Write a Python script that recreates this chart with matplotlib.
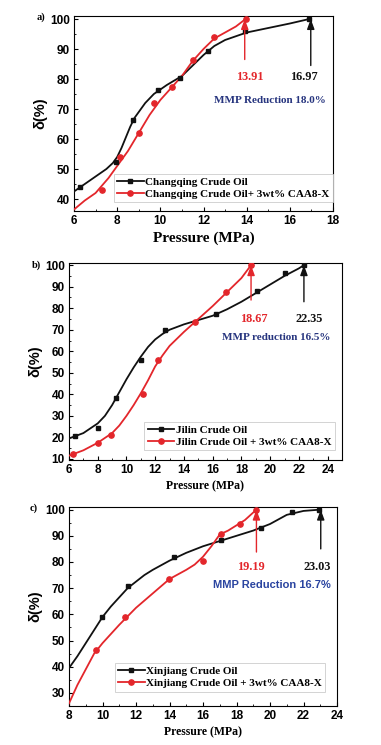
import matplotlib
matplotlib.use("Agg")
import matplotlib.pyplot as plt
from matplotlib.ticker import MultipleLocator

# ---------------- data ----------------
# Panel a: Changqing
a_black_x = [6.3, 7.95, 8.75, 9.9, 10.9, 12.2, 13.9, 16.9]
a_black_y = [44, 52.5, 66.5, 76.5, 80.5, 89.5, 96, 100]
a_red_x = [7.3, 8.15, 9.0, 9.7, 10.55, 11.5, 12.5, 13.95]
a_red_y = [43, 54, 62, 72, 77.5, 86.5, 94, 100]
a_black_fit_x = [6, 6.5, 7, 7.5, 7.8, 8.0, 8.2, 8.4, 8.6, 8.8, 9.0, 9.3, 9.7, 10.3, 11, 11.5, 12, 12.5, 13, 14, 15, 16, 16.9]
a_black_fit_y = [42.5, 45, 47.5, 50, 52, 54, 57, 60.5, 64, 67, 69, 72, 75, 78, 81, 84.5, 88, 91, 93, 95.5, 97, 98.5, 100]
a_red_fit_x = [6, 6.5, 7, 7.6, 8, 8.5, 9, 9.5, 10, 10.5, 11, 11.5, 12, 12.5, 13, 13.5, 13.95]
a_red_fit_y = [36.5, 39.5, 42, 47, 51, 56, 62, 68, 73, 77, 81, 86, 90, 93.5, 95.5, 97.5, 100]

# Panel b: Jilin
b_black_x = [6.4, 8.05, 9.3, 11.0, 12.7, 16.2, 19.1, 21.0, 22.35]
b_black_y = [20.5, 24.5, 38.5, 56, 70, 77.5, 88, 96.5, 100]
b_red_x = [6.3, 8.0, 8.95, 11.15, 12.2, 14.75, 16.9, 18.67]
b_red_y = [12.5, 17.5, 21, 40, 56, 73.5, 87.5, 100]
b_black_fit_x = [6, 7, 8, 8.5, 9, 9.5, 10, 10.5, 11, 11.5, 12, 12.5, 13, 14, 15, 16, 17, 18, 19, 20, 21, 22, 22.35]
b_black_fit_y = [19.5, 22, 26.5, 30, 35, 41, 47, 52.5, 57.5, 62, 65.5, 68, 70, 72.5, 74.5, 76.5, 79.5, 83, 87, 91, 95, 98.5, 100]
b_red_fit_x = [6, 7, 8, 9, 9.5, 10, 10.5, 11, 11.5, 12, 12.5, 13, 14, 15, 16, 17, 18, 18.67]
b_red_fit_y = [11.5, 14, 17.5, 22, 25.5, 30, 35, 40.5, 46.5, 53, 58, 62.5, 69, 75, 81, 87.5, 94, 100]

# Panel c: Xinjiang
c_black_x = [9.95, 11.55, 14.25, 17.1, 19.45, 21.3, 22.95]
c_black_y = [59, 71, 82, 88.5, 93, 99, 100]
c_red_x = [9.6, 11.35, 13.95, 16.0, 17.05, 18.2, 19.19]
c_red_y = [46.5, 59, 73.5, 80.5, 90.5, 94.5, 100]
c_black_fit_x = [8, 8.5, 9, 9.5, 10, 10.5, 11, 11.5, 12, 12.5, 13, 14, 15, 16, 17, 18, 19, 20, 21, 22, 23]
c_black_fit_y = [39.5, 44, 49, 54, 59, 63, 66.5, 70, 72.5, 75, 77, 80.5, 83.5, 86, 88, 90, 92, 94.5, 98, 99.5, 100]
c_red_fit_x = [8, 8.5, 9, 9.5, 10, 10.5, 11, 12, 13, 14, 15, 15.5, 16, 16.5, 17, 17.5, 18, 18.5, 19.19]
c_red_fit_y = [26, 33, 39, 45, 49, 52.5, 56, 62.5, 68, 73.5, 77, 79, 82, 86, 90.5, 92, 94, 96, 100]

mmp_a = [13.91, 16.97]
mmp_b = [18.67, 22.35]
mmp_c = [19.19, 23.03]

labels_a = ["Changqing Crude Oil", "Changqing Crude Oil+ 3wt% CAA8-X"]
labels_b = ["Jilin Crude Oil", "Jilin Crude Oil + 3wt% CAA8-X"]
labels_c = ["Xinjiang Crude Oil", "Xinjiang Crude Oil + 3wt% CAA8-X"]

# ---------------- style ----------------
RED = "#e3262b"
BLACK = "#111111"
BLUE_A = "#27357f"
BLUE_C = "#2a44a0"
SANS = "Liberation Sans"
SERIF = "Liberation Serif"

W, H = 381, 745
fig = plt.figure(figsize=(W / 100, H / 100), dpi=100)


def ax_rect(l, r, t, b):
    return [l / W, 1 - b / H, (r - l) / W, (b - t) / H]


def setup(ax, xlim, ylim, xmaj, ymaj, xlabel_size):
    ax.set_xlim(*xlim)
    ax.set_ylim(*ylim)
    ax.xaxis.set_major_locator(MultipleLocator(xmaj))
    ax.xaxis.set_minor_locator(MultipleLocator(xmaj / 2))
    ax.yaxis.set_major_locator(MultipleLocator(ymaj))
    ax.yaxis.set_minor_locator(MultipleLocator(ymaj / 2))
    ax.tick_params(which="both", direction="in", top=False, right=False)
    ax.tick_params(which="major", length=3, width=0.8, labelsize=8.5, pad=3)
    ax.tick_params(which="minor", length=1.5, width=0.6)
    for lab in ax.get_xticklabels() + ax.get_yticklabels():
        lab.set_fontfamily(SANS)
        lab.set_fontweight("bold")
    for s in ax.spines.values():
        s.set_linewidth(0.8)
    ax.set_ylabel("δ(%)", fontfamily=SANS, fontweight="bold", fontsize=10.5, labelpad=2)
    ax.set_xlabel("Pressure (MPa)", fontfamily=SERIF, fontweight="bold",
                  fontsize=xlabel_size, labelpad=3)


def draw(ax, bx, by, bfx, bfy, rx, ry, rfx, rfy, labels, legend_anchor):
    ax.plot(bfx, bfy, color=BLACK, lw=1.3, zorder=3)
    ax.plot(bx, by, "s", color=BLACK, ms=3.2, zorder=4)
    ax.plot(rfx, rfy, color=RED, lw=1.3, zorder=3)
    ax.plot(rx, ry, "o", color=RED, ms=3.8, zorder=4)
    hb = plt.Line2D([], [], color=BLACK, lw=1.3, marker="s", ms=3.2)
    hr = plt.Line2D([], [], color=RED, lw=1.3, marker="o", ms=3.8)
    leg = ax.legend([hb, hr], labels, loc="lower right", bbox_to_anchor=legend_anchor,
                    prop={"family": SERIF, "weight": "bold", "size": 8},
                    frameon=True, fancybox=False, edgecolor="#c8c8c8",
                    handlelength=2.4, handletextpad=0.15, borderpad=0.3,
                    labelspacing=0.2, borderaxespad=0)
    leg.get_frame().set_linewidth(0.7)


def arrow(ax, x, y0, color):
    ax.annotate("", xy=(x, 100), xytext=(x, y0),
                arrowprops=dict(arrowstyle="-|>,head_length=0.6,head_width=0.22",
                                color=color, lw=1.0, shrinkA=0, shrinkB=0), zorder=5)


num_font = dict(fontfamily=SERIF, fontweight="bold", fontsize=8.8, ha="center", va="center")

# ---- panel a ----
ax1 = fig.add_axes(ax_rect(74, 333, 16, 211))
draw(ax1, a_black_x, a_black_y, a_black_fit_x, a_black_fit_y,
     a_red_x, a_red_y, a_red_fit_x, a_red_fit_y, labels_a, (1.0, 0.045))
setup(ax1, (6, 18), (36, 101), 2, 10, 11)
arrow(ax1, mmp_a[0], 86.5, RED)
arrow(ax1, mmp_a[1], 84.5, BLACK)
ax1.text(14.15, 80.6, f"{mmp_a[0]:.2f}", color=RED, **num_font)
ax1.text(16.65, 80.6, f"{mmp_a[1]:.2f}", color=BLACK, **num_font)
ax1.text(15.07, 72.9, "MMP Reduction 18.0%", color=BLUE_A, fontfamily=SERIF,
         fontweight="bold", fontsize=8, ha="center", va="center")
fig.text(37 / W, 1 - 17 / H, "a)", fontfamily=SERIF, fontweight="bold", fontsize=7.5, va="center")

# ---- panel b ----
ax2 = fig.add_axes(ax_rect(69, 342, 263, 460))
draw(ax2, b_black_x, b_black_y, b_black_fit_x, b_black_fit_y,
     b_red_x, b_red_y, b_red_fit_x, b_red_fit_y, labels_b, (0.974, 0.05))
setup(ax2, (6, 25), (9.5, 101), 2, 10, 8.5)
arrow(ax2, mmp_b[0], 83.8, RED)
arrow(ax2, mmp_b[1], 83.0, BLACK)
ax2.text(18.87, 75, f"{mmp_b[0]:.2f}", color=RED, **num_font)
ax2.text(22.7, 75, f"{mmp_b[1]:.2f}", color=BLACK, **num_font)
ax2.text(20.45, 66.5, "MMP reduction 16.5%", color=BLUE_A, fontfamily=SERIF,
         fontweight="bold", fontsize=8, ha="center", va="center")
fig.text(32 / W, 1 - 265 / H, "b)", fontfamily=SERIF, fontweight="bold", fontsize=7.5, va="center")

# ---- panel c ----
ax3 = fig.add_axes(ax_rect(69, 337, 507, 706))
draw(ax3, c_black_x, c_black_y, c_black_fit_x, c_black_fit_y,
     c_red_x, c_red_y, c_red_fit_x, c_red_fit_y, labels_c, (0.957, 0.072))
setup(ax3, (8, 24), (25, 101), 2, 10, 8.5)
arrow(ax3, mmp_c[0], 83.8, RED)
arrow(ax3, mmp_c[1], 85.0, BLACK)
ax3.text(18.84, 78.1, f"{mmp_c[0]:.2f}", color=RED, **num_font)
ax3.text(22.8, 78.1, f"{mmp_c[1]:.2f}", color=BLACK, **num_font)
ax3.text(20.1, 71.4, "MMP Reduction 16.7%", color=BLUE_C, fontfamily=SANS,
         fontweight="bold", fontsize=8, ha="center", va="center")
fig.text(30 / W, 1 - 508 / H, "c)", fontfamily=SERIF, fontweight="bold", fontsize=7.5, va="center")

fig.savefig("out.png", dpi=100)
